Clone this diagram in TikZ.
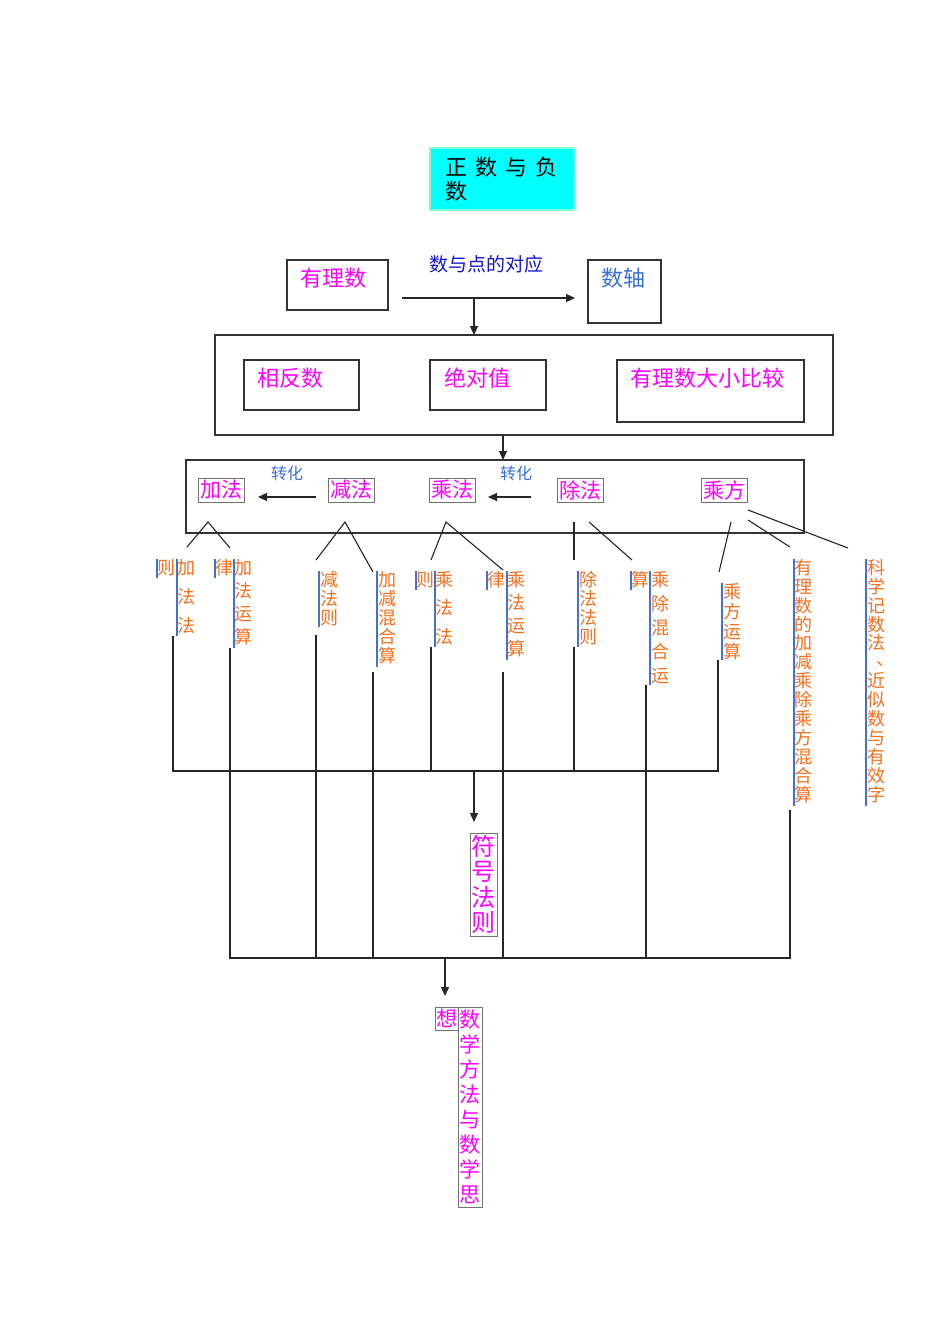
\documentclass[tikz,border=0pt]{standalone}
\usepackage{fontspec}
\setmainfont{Noto Sans CJK SC}
\usetikzlibrary{arrows.meta}
\definecolor{mag}{HTML}{FF00FF}
\definecolor{org}{HTML}{F2701E}
\definecolor{bbar}{HTML}{4472C4}
\definecolor{lblue}{HTML}{3B6FD8}
\definecolor{dblue}{HTML}{1414C8}
\definecolor{cyanf}{HTML}{00FFFF}
\definecolor{cyand}{HTML}{7FFFD4}
\begin{document}
\begin{tikzpicture}[x=1pt,y=-1pt,
  frame/.style={draw=black!80, line width=1.1pt, inner sep=0, outer sep=0},
  lab/.style={inner sep=0, anchor=north west},
  tbox/.style={draw=black!55, line width=0.9pt, inner sep=0, text=mag, font=\fontsize{21}{24}\selectfont},
  vt/.style={inner sep=0, anchor=north, align=center, text=org},
  vbar/.style={draw=bbar, line width=1.8pt},
  conn/.style={draw=black!85, line width=1.1pt},
  arr/.style={conn, -{Triangle[length=9pt,width=8pt]}}]
\useasboundingbox (0,0) rectangle (950,1344);

% title
\node[fill=cyanf, draw=cyand, line width=1.5pt, minimum width=144, minimum height=62, inner sep=0] (title) at (502,179) {};
\node[lab, align=left, font=\fontsize{22}{24}\selectfont] (titletext) at (445,157) {正\hspace{8pt}数\hspace{8pt}与\hspace{8pt}负\\数};

% row 1
\node[frame, minimum width=101, minimum height=50] (ylsbox) at (337.5,285) {};
\node[lab, text=mag, font=\fontsize{22}{24}\selectfont] (yls) at (300,268) {有理数};
\node[lab, text=dblue, font=\fontsize{19}{22}\selectfont] (dyd) at (429,255) {数与点的对应};
\node[frame, minimum width=73, minimum height=63] (szbox) at (624.5,291.5) {};
\node[lab, text=lblue, font=\fontsize{22}{24}\selectfont] (sz) at (601,268) {数轴};
\coordinate (a1) at (402,298);
\coordinate (a2) at (575,298);
\coordinate (a3) at (474,298);
\draw[arr] (a1) -- (a2);

% row 2
\node[frame, minimum width=618, minimum height=100] (mid) at (524,385) {};
\draw[arr] (a3) -- (a3 |- mid.north);
\node[frame, minimum width=115, minimum height=50] (xfbox) at (301.5,385) {};
\node[lab, text=mag, font=\fontsize{22}{24}\selectfont] (xf) at (257,368) {相反数};
\node[frame, minimum width=116, minimum height=50] (jdbox) at (488,385) {};
\node[lab, text=mag, font=\fontsize{22}{24}\selectfont] (jd) at (444,368) {绝对值};
\node[frame, minimum width=187, minimum height=62] (dxbox) at (710.5,391) {};
\node[lab, text=mag, font=\fontsize{22}{24}\selectfont] (dx) at (630,368) {有理数大小比较};

% row 3
\node[frame, minimum width=618, minimum height=73] (ops) at (495,496.5) {};
\coordinate (b1) at (503,435);
\draw[arr] (b1) -- (b1 |- ops.north);
\node[lab, text=lblue, font=\fontsize{16}{18}\selectfont] (zh1) at (271,466) {转化};
\node[lab, text=lblue, font=\fontsize{16}{18}\selectfont] (zh2) at (500,466) {转化};
\node[tbox, minimum width=46, minimum height=24] (jia) at (221,490) {加法};
\node[tbox, minimum width=46, minimum height=24] (jian) at (351,490) {减法};
\node[tbox, minimum width=46, minimum height=24] (cheng) at (452,490) {乘法};
\node[tbox, minimum width=46, minimum height=24] (chu) at (580,490) {除法};
\node[tbox, minimum width=46, minimum height=24] (cf) at (724,490) {乘方};
\coordinate (c1) at (316,497);
\coordinate (c2) at (258,497);
\coordinate (c3) at (531,497);
\coordinate (c4) at (488,497);
\draw[arr] (c1) -- (c2);
\draw[arr] (c3) -- (c4);

% V lines below ops
\draw[conn] (187,547) -- (208,522) -- (230,548);
\draw[conn] (316,560) -- (345,522) -- (373,572);
\draw[conn] (431,560) -- (446,522) -- (503,570);
\draw[conn] (574,522) -- (574,560);
\draw[conn] (589,522) -- (632,560);
\draw[conn] (731,522) -- (719,572);
\draw[conn] (748,510) -- (848,548);
\draw[conn] (748,520) -- (790,547);

% vertical text columns
\node[vt, font=\fontsize{18}{29}\selectfont] (A1) at (166,559) {则};
\draw[vbar] (157,559) -- (157,578);
\node[vt, font=\fontsize{18}{29}\selectfont] (A) at (186,559) {加\\法\\法};
\draw[vbar] (177,559) -- (177,636);

\node[vt, font=\fontsize{18}{23}\selectfont] (B1) at (224,559) {律};
\draw[vbar] (215,559) -- (215,578);
\node[vt, font=\fontsize{18}{23}\selectfont] (B) at (243,559) {加\\法\\运\\算};
\draw[vbar] (234,559) -- (234,648);

\node[vt, font=\fontsize{18}{19}\selectfont] (C) at (329,571) {减\\法\\则};
\draw[vbar] (319,571) -- (319,627);

\node[vt, font=\fontsize{18}{19}\selectfont] (D) at (387,571) {加\\减\\混\\合\\算};
\draw[vbar] (377,571) -- (377,667);

\node[vt, font=\fontsize{18}{28.5}\selectfont] (E1) at (425,571) {则};
\draw[vbar] (416,571) -- (416,590);
\node[vt, font=\fontsize{18}{28.5}\selectfont] (E) at (444,571) {乘\\法\\法};
\draw[vbar] (435,571) -- (435,647);

\node[vt, font=\fontsize{18}{23}\selectfont] (F1) at (496,571) {律};
\draw[vbar] (487,571) -- (487,590);
\node[vt, font=\fontsize{18}{23}\selectfont] (F) at (516,571) {乘\\法\\运\\算};
\draw[vbar] (507,571) -- (507,660);

\node[vt, font=\fontsize{18}{19}\selectfont] (G) at (588,571) {除\\法\\法\\则};
\draw[vbar] (578,571) -- (578,647);

\node[vt, font=\fontsize{18}{24}\selectfont] (H1) at (640,571) {算};
\draw[vbar] (631,571) -- (631,590);
\node[vt, font=\fontsize{18}{24}\selectfont] (H) at (660,571) {乘\\除\\混\\合\\运};
\draw[vbar] (650,571) -- (650,685);

\node[vt, font=\fontsize{18}{20}\selectfont] (I) at (732,583) {乘\\方\\运\\算};
\draw[vbar] (722,583) -- (722,660);

\node[vt, font=\fontsize{18}{18.9}\selectfont] (J) at (803,559) {有\\理\\数\\的\\加\\减\\乘\\除\\乘\\方\\混\\合\\算};
\draw[vbar] (794,559) -- (794,806);

\node[vt, font=\fontsize{18}{18.9}\selectfont] (K) at (876,559) {科\\学\\记\\数\\法\\\makebox[18pt][l]{\hspace{9pt}\raisebox{3pt}[0pt][0pt]{、}}\\近\\似\\数\\与\\有\\效\\字};
\draw[vbar] (866,559) -- (866,806);

% lower connectors
\draw[conn] (173,636) -- (173,771) -- (718,771) -- (718,660);
\draw[conn] (431,647) -- (431,771);
\draw[conn] (574,647) -- (574,771);
\draw[conn] (230,648) -- (230,958) -- (790,958) -- (790,810);
\draw[conn] (316,635) -- (316,958);
\draw[conn] (373,672) -- (373,958);
\draw[conn] (503,672) -- (503,958);
\draw[conn] (646,685) -- (646,958);

\node[tbox, minimum width=27, minimum height=103, align=center, font=\fontsize{24}{25.5}\selectfont] (fh) at (483.5,884.5) {符\\号\\法\\则};
\coordinate (d1) at (474,771);
\draw[arr] (d1) -- (474,822);

\coordinate (e1) at (445,958);
\draw[arr] (e1) -- (445,996);
\node[tbox, minimum width=23, minimum height=23] (xiang) at (446.5,1018.5) {想};
\node[tbox, minimum width=24, minimum height=200, align=center, font=\fontsize{21}{25}\selectfont] (sx) at (470,1107) {数\\学\\方\\法\\与\\数\\学\\思};
\end{tikzpicture}
\end{document}
